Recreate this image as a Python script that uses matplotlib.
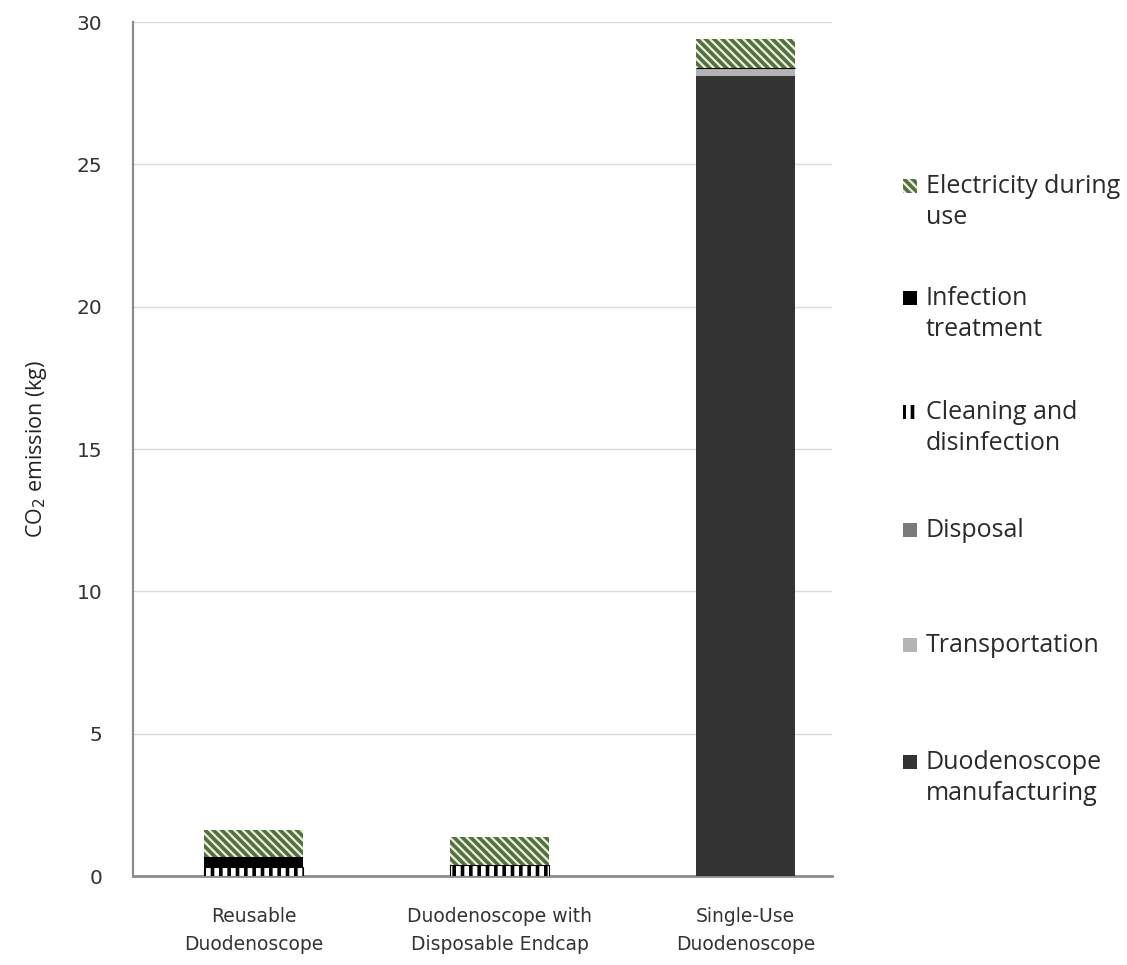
import numpy as np
import matplotlib.pyplot as plt
from matplotlib.patches import Rectangle

plt.rcParams['hatch.linewidth'] = 2.6

# ── Data ────────────────────────────────────────────────────────────────
CATEGORIES = ['Reusable\nDuodenoscope',
              'Duodenoscope with\nDisposable Endcap',
              'Single-Use\nDuodenoscope']
# stacked bottom -> top
SERIES = ['Duodenoscope\nmanufacturing', 'Transportation', 'Disposal',
          'Cleaning and\ndisinfection', 'Infection\ntreatment',
          'Electricity during\nuse']
MANUFACTURING = [0.0, 0.0, 28.1]
TRANSPORT     = [0.0, 0.0, 0.28]
DISPOSAL      = [0.0, 0.0, 0.0]
CLEANING      = [0.32, 0.40, 0.0]
INFECTION     = [0.35, 0.0, 0.0]
ELECTRICITY   = [0.95, 0.98, 1.02]
VALUES = [MANUFACTURING, TRANSPORT, DISPOSAL, CLEANING, INFECTION, ELECTRICITY]

# styles: (face, hatch colour, hatch)
STYLES = [
    ('#333333', '#333333', None),
    ('#b4b4b4', '#b4b4b4', None),
    ('#7a7a7a', '#7a7a7a', None),
    ('#ffffff', '#000000', '||'),
    ('#000000', '#000000', None),
    ('#e9eedd', '#55703f', '\\\\\\\\'),
]

fig = plt.figure(figsize=(11.27, 9.65), dpi=100)
ax = fig.add_axes([0.118, 0.0922, 0.620, 0.8850])

x = np.arange(len(CATEGORIES))
bottom = np.zeros(len(CATEGORIES))
for vals, (face, hc, hatch) in zip(VALUES, STYLES):
    vals = np.array(vals)
    ax.bar(x, vals, width=0.40, bottom=bottom, color=face,
           edgecolor=hc, linewidth=0.8 if hatch == '||' else 0,
           hatch=hatch, zorder=3)
    bottom += vals

ax.set_xlim(-0.49, 2.35)
ax.set_ylim(0, 30)
ax.set_yticks(np.arange(0, 31, 5))
ax.yaxis.grid(True, color='#d9d9d9', lw=1.0, zorder=0)
ax.set_xticks(x)
ax.set_xticklabels(CATEGORIES, fontsize=13.5, color='#333333',
                   family='DejaVu Sans', linespacing=1.6)
ax.tick_params(axis='x', length=0, pad=22)
ax.tick_params(axis='y', length=0, pad=22, labelsize=14.5, labelcolor='#333333')
for s in ['top', 'right']:
    ax.spines[s].set_visible(False)
ax.spines['left'].set_color('#8c8c8c')
ax.spines['left'].set_linewidth(1.6)
ax.spines['bottom'].set_color('#8c8c8c')
ax.spines['bottom'].set_linewidth(2.0)
ax.set_ylabel('CO$_2$ emission (kg)', fontsize=15.5, family='Open Sans',
              color='#222222', labelpad=20)

# ── Legend, drawn by hand in figure pixels ──────────────────────────────
W, H = 1127, 965
LEG_Y = [762, 645, 530, 412, 298, 186]   # first-line centre, px from top
for label, (face, hc, hatch), yp in zip(SERIES, STYLES, LEG_Y):
    yc = 1 - yp / H
    fig.add_artist(Rectangle((903 / W, yc - 7 / H), 14 / W, 14 / H,
                             transform=fig.transFigure, facecolor=face,
                             edgecolor=hc, linewidth=0, hatch=hatch))
    fig.text(926 / W, yc + 12 / H, label, fontsize=18, family='Open Sans',
             color='#2a2a2a', va='top', ha='left', linespacing=1.3)

fig.savefig('out.png', dpi=100)
